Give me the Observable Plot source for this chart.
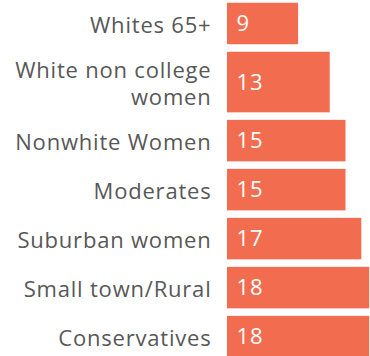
<!DOCTYPE html>
<html>
<head>
<meta charset="utf-8">
<script src="https://cdn.jsdelivr.net/npm/d3@7"></script>
<script src="https://cdn.jsdelivr.net/npm/@observablehq/plot@0.6"></script>
<style>
  html, body { margin: 0; padding: 0; background: #fff; overflow: hidden; }
  #chart svg { display: block; }
</style>
</head>
<body>
<div id="chart"></div>
<script>
const categories = [
  "Whites 65+",
  "White non college\nwomen",
  "Nonwhite Women",
  "Moderates",
  "Suburban women",
  "Small town/Rural",
  "Conservatives"
];
const values = [9, 13, 15, 15, 17, 18, 18];

// Layout: each row is one unit tall; each extra label line adds a fraction of a row.
const extraPerLine = 0.39;
let acc = 0;
const rows = categories.map((c, i) => {
  const lines = c.split("\n").length;
  const h = 1 + (lines - 1) * extraPerLine;
  const r = {label: c, value: values[i], top: acc, bottom: acc + h, mid: acc + h / 2};
  acc += h;
  return r;
});
const total = acc;
const rowPx = 49;

const font = "'Open Sans', Lato, sans-serif";
const plot = Plot.plot({
  width: 370,
  height: Math.round(total * rowPx),
  marginLeft: 227,
  marginRight: 1,
  marginTop: 0,
  marginBottom: 0,
  style: {fontFamily: font, background: "#fff", letterSpacing: "0.8px"},
  x: {domain: [0, 18], range: [227, 369.2], axis: null},
  y: {domain: [0, total], range: [-1, -1 + total * rowPx], axis: null},
  marks: [
    Plot.rectX(rows, {x1: 0, x2: "value", y1: "top", y2: "bottom", insetTop: 3.75, insetBottom: 3.75, fill: "#f26d50"}),
    Plot.text(rows, {x: 0, y: "mid", text: "label", textAnchor: "end", dx: -16, fill: "#585858", fontSize: 22, lineHeight: 1.25}),
    Plot.text(rows, {x: 0, y: "mid", text: d => String(d.value), textAnchor: "start", dx: 9, fill: "#fff", fontSize: 22})
  ]
});
document.getElementById("chart").appendChild(plot);
</script>
</body>
</html>
